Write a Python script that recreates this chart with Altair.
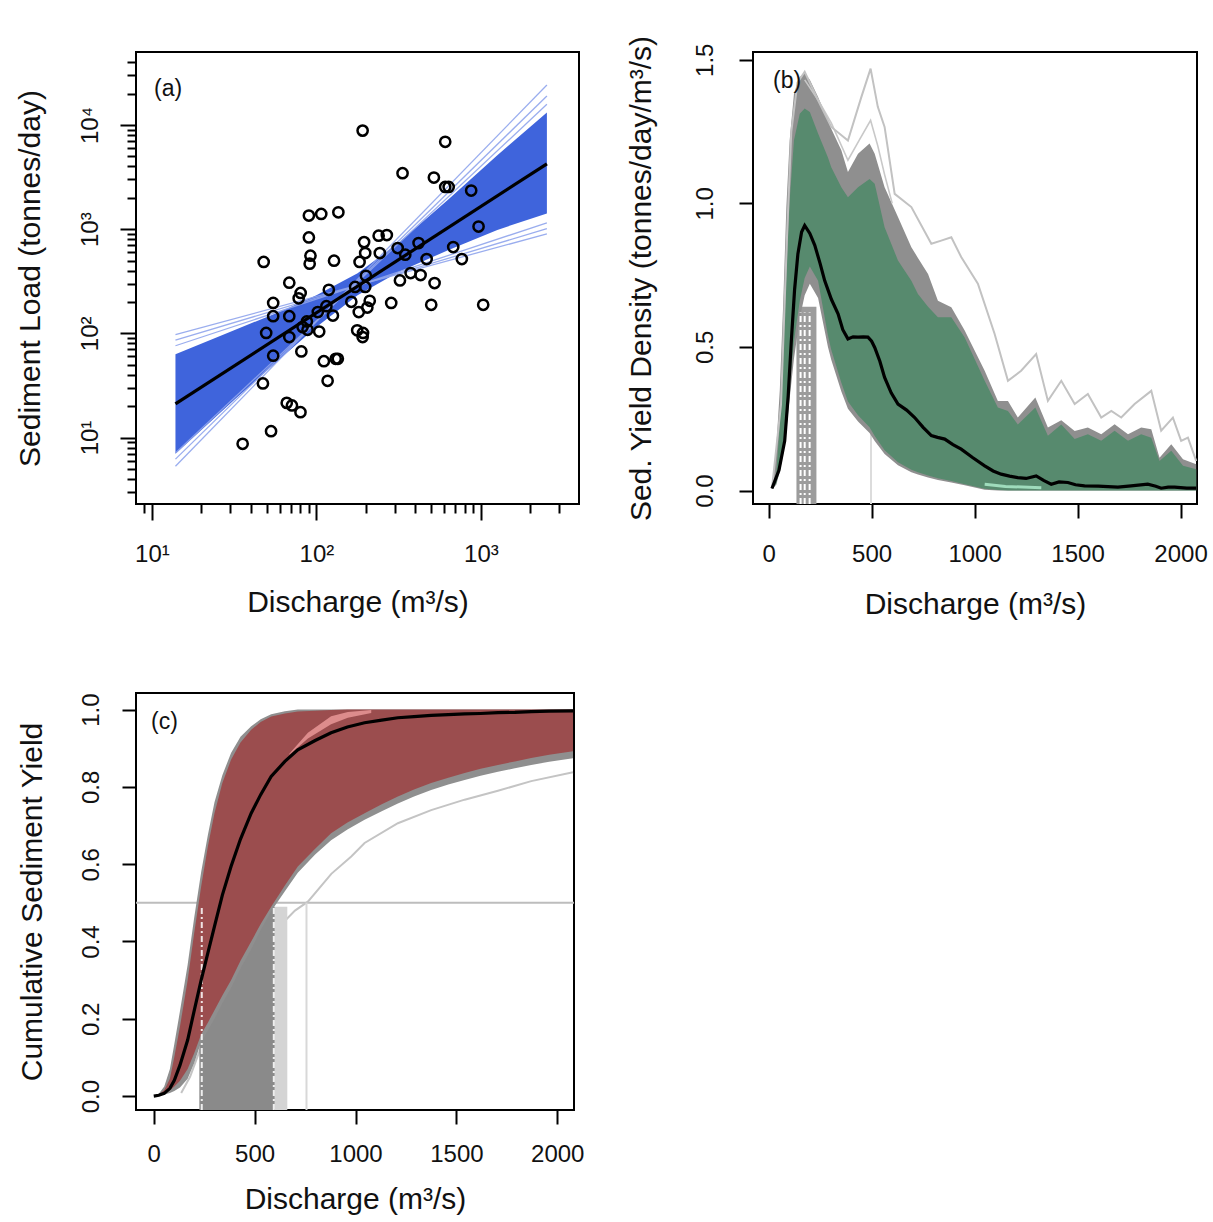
import altair as alt
import pandas as pd

FONT = "Liberation Sans"
INK = "#111111"

# ---------------- panel (a): sediment rating curve ----------------
A_DISCHARGE = [191, 607, 334, 518, 607, 637, 873, 90, 107, 136, 968, 90, 239, 268, 195, 418, 312, 679,
               92, 198, 243, 347, 47.8, 128, 183, 468, 766, 91, 374, 430, 200, 68.4, 322, 523, 172, 198,
               119, 80.2, 78, 54.6, 163, 211, 285, 499, 1033, 115, 204, 102, 181, 54.6, 68.4, 126, 87.5,
               82.4, 88.3, 49.5, 104, 177, 192, 191, 68.4, 81, 54.6, 111, 131, 135, 47.3, 117, 66, 71,
               80, 53, 35.6]
A_LOAD = [8830, 6890, 3450, 3130, 2540, 2540, 2350, 1350, 1400, 1450, 1060, 832, 865, 878, 751, 736, 659,
          674, 556, 590, 590, 569, 484, 498, 484, 517, 517, 466, 379, 363, 357, 306, 322, 304, 279, 279,
          262, 244, 217, 196, 201, 205, 196, 188, 188, 182, 177, 160, 160, 146, 146, 148, 130, 115, 108,
          101, 104, 107, 101, 92, 92, 67, 61, 54, 57, 57, 33, 35, 21.5, 20.3, 17.5, 11.5, 8.7]
A_FIT_Q = [13.9, 2520]
A_FIT_LOAD = [21.0, 4240]
A_BAND_Q = [13.9, 31.6, 63.1, 100, 178, 316, 631, 1259, 2520]
A_BAND_LO = [7.0, 22.9, 61, 115, 232, 387, 628, 984, 1413]
A_BAND_HI = [63, 107, 167, 232, 377, 741, 1914, 5117, 13200]
A_EDGE_START = [97, 86, 76, 5.3, 6.2, 7.1]        # load at Q = 13.9
A_EDGE_END = [900, 1010, 1150, 24200, 19000, 15800]  # load at Q = 2520
A_X_TICKS = [9, 10, 20, 30, 40, 50, 60, 70, 80, 90, 100, 200, 300, 400, 500, 600, 700, 800, 900,
             1000, 2000, 3000]
A_Y_TICKS = [3, 4, 5, 6, 7, 8, 9, 10, 20, 30, 40, 50, 60, 70, 80, 90, 100, 200, 300, 400, 500, 600,
             700, 800, 900, 1000, 2000, 3000, 4000, 5000, 6000, 7000, 8000, 9000, 10000, 20000, 30000,
             40000]
A_DOM_X = [8.0, 3950]
A_DOM_Y = [2.3, 50200]

# ---------------- panel (b): sediment yield density ----------------
B_X = [16, 37, 54, 70, 86, 102, 123, 151, 175, 200, 240, 288, 304, 353, 385, 434, 490, 515, 563, 628,
       693, 725, 774, 822, 887, 952, 1049, 1113, 1162, 1210, 1295, 1356, 1421, 1486, 1550, 1615, 1680,
       1745, 1809, 1858, 1898, 1955, 2012, 2076]
B_GRN_HI = [0.007, 0.06, 0.23, 0.46, 0.754, 1.01, 1.22, 1.312, 1.33, 1.318, 1.243, 1.16, 1.126, 1.056,
            1.021, 1.056, 1.085, 1.068, 0.917, 0.801, 0.73, 0.684, 0.64, 0.603, 0.603, 0.533, 0.382,
            0.289, 0.277, 0.23, 0.289, 0.191, 0.23, 0.179, 0.196, 0.173, 0.208, 0.173, 0.196, 0.184,
            0.103, 0.138, 0.086, 0.074]
B_GRY_HI = [0.007, 0.15, 0.348, 0.638, 0.987, 1.22, 1.382, 1.44, 1.452, 1.43, 1.37, 1.289, 1.26, 1.185,
            1.109, 1.173, 1.208, 1.173, 1.056, 0.952, 0.847, 0.81, 0.754, 0.661, 0.638, 0.557, 0.417,
            0.312, 0.312, 0.254, 0.324, 0.219, 0.245, 0.207, 0.219, 0.196, 0.231, 0.196, 0.219, 0.213,
            0.114, 0.161, 0.109, 0.091]
B_GRN_LO = [0.005, 0.025, 0.08, 0.15, 0.25, 0.37, 0.52, 0.66, 0.74, 0.78, 0.73, 0.54, 0.49, 0.375, 0.31,
            0.262, 0.22, 0.19, 0.14, 0.098, 0.072, 0.064, 0.052, 0.043, 0.033, 0.022, 0.006, 0.002, 0, 0,
            0, 0, 0, 0, 0, 0, 0, 0, 0, 0, 0, 0, 0, 0]
B_GRY_LO = [0.004, 0.02, 0.065, 0.125, 0.21, 0.32, 0.46, 0.6, 0.68, 0.72, 0.67, 0.5, 0.455, 0.345, 0.285,
            0.24, 0.2, 0.172, 0.127, 0.088, 0.064, 0.056, 0.045, 0.037, 0.028, 0.018, 0.003, 0, 0, 0,
            0, 0, 0, 0, 0, 0, 0, 0, 0, 0, 0, 0, 0, 0]
B_MED_X = [16, 50, 78, 95, 110, 126, 142, 160, 175, 200, 224, 250, 272, 305, 337, 360, 385, 410, 434,
           460, 482, 500, 515, 540, 563, 595, 628, 670, 709, 750, 790, 820, 855, 895, 935, 990, 1049,
           1090, 1129, 1170, 1210, 1250, 1299, 1335, 1372, 1410, 1453, 1490, 1534, 1600, 1696, 1760,
           1841, 1880, 1906, 1940, 1971, 2030, 2076]
B_MED_Y = [0.007, 0.07, 0.173, 0.33, 0.52, 0.70, 0.824, 0.90, 0.923, 0.895, 0.854, 0.79, 0.731, 0.665,
           0.615, 0.56, 0.528, 0.535, 0.534, 0.535, 0.534, 0.52, 0.498, 0.45, 0.394, 0.34, 0.301, 0.28,
           0.254, 0.22, 0.191, 0.185, 0.179, 0.16, 0.144, 0.115, 0.086, 0.068, 0.057, 0.05, 0.045,
           0.042, 0.051, 0.035, 0.022, 0.03, 0.028, 0.02, 0.016, 0.015, 0.012, 0.016, 0.022, 0.015,
           0.008, 0.012, 0.012, 0.008, 0.008]
B_OUT1_X = [16, 60, 90, 110, 140, 175, 240, 304, 385, 450, 495, 530, 563, 612, 693, 790, 838, 887, 935,
            1016, 1097, 1162, 1226, 1299, 1356, 1421, 1486, 1550, 1615, 1664, 1712, 1777, 1858, 1906,
            1963, 2003, 2036, 2076]
B_OUT1_Y = [0.007, 0.3, 0.9, 1.25, 1.42, 1.458, 1.359, 1.266, 1.219, 1.37, 1.469, 1.336, 1.266, 1.033,
            0.987, 0.859, 0.870, 0.882, 0.813, 0.720, 0.546, 0.382, 0.417, 0.475, 0.312, 0.382, 0.301,
            0.336, 0.254, 0.277, 0.254, 0.301, 0.347, 0.208, 0.254, 0.173, 0.184, 0.103]
B_OUT2_X = [175, 240, 304, 385, 440, 495, 530, 563, 600]
B_OUT2_Y = [1.43, 1.36, 1.28, 1.15, 1.22, 1.289, 1.2, 1.1, 1.0]
B_MINT_X = [1049, 1150, 1324]
B_MINT_Y = [0.022, 0.014, 0.01]
B_VBAND = [135, 232]
B_VBAND_TOP = 0.64
B_DASH_X = [155, 175, 199]
B_DASH_TOP = 0.62
B_FAINT_X = 497
B_FAINT_TOP = 0.23
B_DOM_X = [-76, 2080]
B_DOM_Y = [-0.047, 1.527]

# ---------------- panel (c): cumulative sediment yield ----------------
C_X = [0, 25, 52, 80, 102, 130, 168, 200, 235, 268, 301, 340, 383, 430, 483, 530, 582, 650, 714, 800,
       879, 960, 1045, 1130, 1210, 1290, 1375, 1460, 1541, 1620, 1706, 1790, 1871, 1960, 2078]
C_RED_HI = [0, 0.004, 0.015, 0.045, 0.101, 0.18, 0.3, 0.42, 0.542, 0.645, 0.732, 0.81, 0.87, 0.915,
            0.948, 0.968, 0.982, 0.99, 0.995, 0.997, 0.999, 1, 1, 1, 1, 1, 1, 1, 1, 1, 1, 1, 1, 1, 1]
C_GRY_HI = [0, 0.006, 0.025, 0.07, 0.135, 0.22, 0.34, 0.46, 0.58, 0.675, 0.76, 0.83, 0.888, 0.93, 0.957,
            0.975, 0.988, 0.996, 1, 1, 1, 1, 1, 1, 1, 1, 1, 1, 1, 1, 1, 1, 1, 1, 1]
C_MED = [0, 0.002, 0.007, 0.02, 0.041, 0.08, 0.145, 0.22, 0.3, 0.37, 0.439, 0.52, 0.594, 0.665, 0.732,
         0.78, 0.827, 0.866, 0.896, 0.92, 0.94, 0.955, 0.966, 0.973, 0.979, 0.982, 0.985, 0.987, 0.989,
         0.99, 0.992, 0.993, 0.995, 0.996, 0.997]
C_RED_LO = [0, 0.002, 0.008, 0.015, 0.025, 0.04, 0.07, 0.11, 0.16, 0.19, 0.222, 0.26, 0.30, 0.35, 0.40,
            0.445, 0.49, 0.545, 0.594, 0.64, 0.68, 0.708, 0.732, 0.755, 0.775, 0.793, 0.81, 0.824, 0.836,
            0.847, 0.857, 0.866, 0.875, 0.883, 0.892]
C_GRY_LO = [0, 0.001, 0.004, 0.008, 0.013, 0.022, 0.045, 0.085, 0.14, 0.17, 0.2, 0.24, 0.28, 0.33, 0.38,
            0.43, 0.478, 0.53, 0.578, 0.625, 0.662, 0.69, 0.715, 0.737, 0.757, 0.775, 0.792, 0.806,
            0.818, 0.829, 0.839, 0.848, 0.857, 0.865, 0.874]
C_OUT_X = [136, 180, 235, 300, 400, 500, 598, 700, 764, 880, 979, 1045, 1210, 1375, 1541, 1706, 1871, 2078]
C_OUT_Y = [0.008, 0.05, 0.128, 0.2, 0.3, 0.37, 0.426, 0.48, 0.503, 0.575, 0.62, 0.655, 0.706, 0.74,
           0.767, 0.79, 0.815, 0.838]
C_PINK_X = [672, 764, 879, 962, 1078]
C_PINK_LO = [0.883, 0.925, 0.962, 0.979, 0.991]
C_PINK_HI = [0.886, 0.94, 0.983, 0.994, 0.999]
C_SHADE_X = [226, 400, 582, 600]
C_SHADE_TOP = [0.154, 0.318, 0.49, 0.49]
C_STRIP = [600, 662]
C_DASH_X = [238, 595]
C_DASH_TOP = 0.49
C_FAINT_X = 757
C_HALF = 0.5
C_DOM_X = [-88, 2083]
C_DOM_Y = [-0.036, 1.043]

DASHDOT = [6, 3, 2, 3]

# ======================= panel (a) =======================
AW, AH = 443, 452
MAJOR_TEST = "datum.value == 10 || datum.value == 100 || datum.value == 1000 || datum.value == 10000"
SUP_EXPR = ("datum.value == 10 ? '10\u00b9' : datum.value == 100 ? '10\u00b2' : "
            "datum.value == 1000 ? '10\u00b3' : datum.value == 10000 ? '10\u2074' : ''")
a_xscale = alt.Scale(type="log", domain=A_DOM_X, nice=False, zero=False)
a_yscale = alt.Scale(type="log", domain=A_DOM_Y, nice=False, zero=False)
a_xaxis = alt.Axis(values=A_X_TICKS, labelExpr=SUP_EXPR, title="Discharge (m\u00b3/s)",
                   tickSize={"condition": {"test": MAJOR_TEST, "value": 16}, "value": 9},
                   labelPadding=34, labelBaseline="middle",
                   titleX=AW / 2, titleY=98, titleAlign="center", titleBaseline="middle")
a_yaxis = alt.Axis(values=A_Y_TICKS, labelExpr=SUP_EXPR, title="Sediment Load (tonnes/day)",
                   tickSize={"condition": {"test": MAJOR_TEST, "value": 16}, "value": 9},
                   labelPadding=30, labelAngle=270, labelAlign="center", labelBaseline="middle",
                   titleX=-106, titleY=AH / 2, titleAngle=270, titleAlign="center",
                   titleBaseline="middle")


def ax_(f):
    return alt.X(f, type="quantitative", scale=a_xscale, axis=a_xaxis)


def ay_(f):
    return alt.Y(f, type="quantitative", scale=a_yscale, axis=a_yaxis)


a_band_df = pd.DataFrame({"q": A_BAND_Q, "lo": A_BAND_LO, "hi": A_BAND_HI})
edge_rows = []
for i, (s, e) in enumerate(zip(A_EDGE_START, A_EDGE_END)):
    edge_rows.append({"q": A_FIT_Q[0], "load": s, "id": i})
    edge_rows.append({"q": A_FIT_Q[1], "load": e, "id": i})
a_edge_df = pd.DataFrame(edge_rows)
a_fit_df = pd.DataFrame({"q": A_FIT_Q, "load": A_FIT_LOAD})
a_pts_df = pd.DataFrame({"q": A_DISCHARGE, "load": A_LOAD})

a_band = alt.Chart(a_band_df).mark_area(color="#3f64dc", opacity=1, clip=True).encode(
    x=ax_("q"), y=ay_("lo"), y2=alt.Y2("hi"))
a_edges = alt.Chart(a_edge_df).mark_line(color="#8fa4ec", strokeWidth=1.3, opacity=0.9, clip=True).encode(
    x=ax_("q"), y=ay_("load"), detail="id:N")
a_fit = alt.Chart(a_fit_df).mark_line(color="black", strokeWidth=3.2, clip=True).encode(
    x=ax_("q"), y=ay_("load"))
a_pts = alt.Chart(a_pts_df).mark_point(shape="circle", filled=False, color="black", size=105,
                                       strokeWidth=2.5, opacity=1, clip=True).encode(
    x=ax_("q"), y=ay_("load"))
a_tag = alt.Chart(pd.DataFrame({"t": ["(a)"]})).mark_text(
    align="left", baseline="middle", fontSize=23, font=FONT, color=INK).encode(
    text="t:N", x=alt.value(18), y=alt.value(37))
panel_a = alt.layer(a_band, a_edges, a_fit, a_pts, a_tag).properties(width=AW, height=AH)

# ======================= panel (b) =======================
BW, BH = 444, 452
b_xscale = alt.Scale(domain=B_DOM_X, nice=False, zero=False)
b_yscale = alt.Scale(domain=B_DOM_Y, nice=False, zero=False)
b_xaxis = alt.Axis(values=[0, 500, 1000, 1500, 2000], format="d", title="Discharge (m\u00b3/s)",
                   tickSize=14, labelPadding=36, labelBaseline="middle",
                   titleX=BW / 2, titleY=100, titleAlign="center", titleBaseline="middle")
b_yaxis = alt.Axis(values=[0, 0.5, 1.0, 1.5], format=".1f",
                   title="Sed. Yield Density (tonnes/day/m\u00b3/s)",
                   tickSize=14, labelPadding=34, labelAngle=270, labelAlign="center",
                   labelBaseline="middle", titleX=-112, titleY=BH / 2, titleAngle=270,
                   titleAlign="center", titleBaseline="middle")


def bx_(f):
    return alt.X(f, type="quantitative", scale=b_xscale, axis=b_xaxis)


def by_(f):
    return alt.Y(f, type="quantitative", scale=b_yscale, axis=b_yaxis)


b_band_df = pd.DataFrame({"x": B_X, "glo": B_GRY_LO, "ghi": B_GRY_HI, "nlo": B_GRN_LO, "nhi": B_GRN_HI})
b_vband = alt.Chart(pd.DataFrame({"x1": [B_VBAND[0]], "x2": [B_VBAND[1]], "y1": [B_DOM_Y[0]],
                                  "y2": [B_VBAND_TOP]})).mark_rect(color="#9c9c9c", clip=True).encode(
    x=bx_("x1"), x2=alt.X2("x2"), y=by_("y1"), y2=alt.Y2("y2"))
b_dash = alt.Chart(pd.DataFrame({"x": B_DASH_X, "y1": [B_DOM_Y[0]] * len(B_DASH_X),
                                 "y2": [B_DASH_TOP] * len(B_DASH_X)})).mark_rule(
    color="white", strokeWidth=2, strokeDash=DASHDOT, clip=True).encode(
    x=bx_("x"), y=by_("y1"), y2=alt.Y2("y2"))
b_faint = alt.Chart(pd.DataFrame({"x": [B_FAINT_X], "y1": [B_DOM_Y[0]], "y2": [B_FAINT_TOP]})).mark_rule(
    color="#dcdcdc", strokeWidth=2, clip=True).encode(x=bx_("x"), y=by_("y1"), y2=alt.Y2("y2"))
b_gray = alt.Chart(b_band_df).mark_area(color="#8f8f8f", clip=True).encode(
    x=bx_("x"), y=by_("glo"), y2=alt.Y2("ghi"))
b_green = alt.Chart(b_band_df).mark_area(color="#578a6e", clip=True).encode(
    x=bx_("x"), y=by_("nlo"), y2=alt.Y2("nhi"))
b_mint = alt.Chart(pd.DataFrame({"x": B_MINT_X, "y": B_MINT_Y})).mark_line(
    color="#9fdcbc", strokeWidth=3, clip=True).encode(x=bx_("x"), y=by_("y"))
b_out1 = alt.Chart(pd.DataFrame({"x": B_OUT1_X, "y": B_OUT1_Y})).mark_line(
    color="#c2c2c2", strokeWidth=2, clip=True).encode(x=bx_("x"), y=by_("y"))
b_out2 = alt.Chart(pd.DataFrame({"x": B_OUT2_X, "y": B_OUT2_Y})).mark_line(
    color="#c8c8c8", strokeWidth=1.6, clip=True).encode(x=bx_("x"), y=by_("y"))
b_med = alt.Chart(pd.DataFrame({"x": B_MED_X, "y": B_MED_Y})).mark_line(
    color="black", strokeWidth=3.2, clip=True).encode(x=bx_("x"), y=by_("y"))
b_tag = alt.Chart(pd.DataFrame({"t": ["(b)"]})).mark_text(
    align="left", baseline="middle", fontSize=23, font=FONT, color=INK).encode(
    text="t:N", x=alt.value(20), y=alt.value(29))
panel_b = alt.layer(b_vband, b_faint, b_gray, b_green, b_mint, b_out2, b_out1, b_dash, b_med,
                    b_tag).properties(width=BW, height=BH)

# ======================= panel (c) =======================
CW, CH = 438, 417
c_xscale = alt.Scale(domain=C_DOM_X, nice=False, zero=False)
c_yscale = alt.Scale(domain=C_DOM_Y, nice=False, zero=False)
c_xaxis = alt.Axis(values=[0, 500, 1000, 1500, 2000], format="d", title="Discharge (m\u00b3/s)",
                   tickSize=14, labelPadding=30, labelBaseline="middle",
                   titleX=CW / 2, titleY=89, titleAlign="center", titleBaseline="middle")
c_yaxis = alt.Axis(values=[0, 0.2, 0.4, 0.6, 0.8, 1.0], format=".1f",
                   title="Cumulative Sediment Yield",
                   tickSize=14, labelPadding=31, labelAngle=270, labelAlign="center",
                   labelBaseline="middle", titleX=-104, titleY=CH / 2, titleAngle=270,
                   titleAlign="center", titleBaseline="middle")


def cx_(f):
    return alt.X(f, type="quantitative", scale=c_xscale, axis=c_xaxis)


def cy_(f):
    return alt.Y(f, type="quantitative", scale=c_yscale, axis=c_yaxis)


c_band_df = pd.DataFrame({"x": C_X, "glo": C_GRY_LO, "ghi": C_GRY_HI, "rlo": C_RED_LO, "rhi": C_RED_HI,
                          "med": C_MED})
c_half = alt.Chart(pd.DataFrame({"y": [C_HALF]})).mark_rule(color="#bdbdbd", strokeWidth=2).encode(
    y=cy_("y"))
c_out = alt.Chart(pd.DataFrame({"x": C_OUT_X, "y": C_OUT_Y})).mark_line(
    color="#c4c4c4", strokeWidth=2, clip=True).encode(x=cx_("x"), y=cy_("y"))
c_shade = alt.Chart(pd.DataFrame({"x": C_SHADE_X, "y1": [C_DOM_Y[0]] * len(C_SHADE_X),
                                  "y2": C_SHADE_TOP})).mark_area(color="#8a8a8a", clip=True).encode(
    x=cx_("x"), y=cy_("y1"), y2=alt.Y2("y2"))
c_strip = alt.Chart(pd.DataFrame({"x1": [C_STRIP[0]], "x2": [C_STRIP[1]], "y1": [C_DOM_Y[0]],
                                  "y2": [C_DASH_TOP]})).mark_rect(color="#d4d4d4", clip=True).encode(
    x=cx_("x1"), x2=alt.X2("x2"), y=cy_("y1"), y2=alt.Y2("y2"))
c_faint = alt.Chart(pd.DataFrame({"x": [C_FAINT_X], "y1": [C_DOM_Y[0]], "y2": [C_HALF]})).mark_rule(
    color="#d8d8d8", strokeWidth=2, clip=True).encode(x=cx_("x"), y=cy_("y1"), y2=alt.Y2("y2"))
c_gray = alt.Chart(c_band_df).mark_area(color="#8f8f8f", clip=True).encode(
    x=cx_("x"), y=cy_("glo"), y2=alt.Y2("ghi"))
c_red = alt.Chart(c_band_df).mark_area(color="#9b4d4e", clip=True).encode(
    x=cx_("x"), y=cy_("rlo"), y2=alt.Y2("rhi"))
c_pink = alt.Chart(pd.DataFrame({"x": C_PINK_X, "lo": C_PINK_LO, "hi": C_PINK_HI})).mark_area(
    color="#dd8c8c", clip=True).encode(x=cx_("x"), y=cy_("lo"), y2=alt.Y2("hi"))
c_dash = alt.Chart(pd.DataFrame({"x": C_DASH_X, "y1": [C_DOM_Y[0]] * len(C_DASH_X),
                                 "y2": [C_DASH_TOP] * len(C_DASH_X)})).mark_rule(
    color="white", strokeWidth=2, strokeDash=DASHDOT, opacity=0.85, clip=True).encode(
    x=cx_("x"), y=cy_("y1"), y2=alt.Y2("y2"))
c_med = alt.Chart(c_band_df).mark_line(color="black", strokeWidth=3.2, clip=True).encode(
    x=cx_("x"), y=cy_("med"))
c_tag = alt.Chart(pd.DataFrame({"t": ["(c)"]})).mark_text(
    align="left", baseline="middle", fontSize=23, font=FONT, color=INK).encode(
    text="t:N", x=alt.value(15), y=alt.value(29))
panel_c = alt.layer(c_half, c_out, c_shade, c_strip, c_faint, c_gray, c_red, c_pink, c_dash, c_med,
                    c_tag).properties(width=CW, height=CH)

chart = alt.concat(panel_a, panel_b, panel_c, columns=2,
                   spacing={"row": 189, "column": 174}, bounds="flush").resolve_scale(
    x="independent", y="independent").properties(
    padding={"left": 13, "top": 34, "right": 0, "bottom": 0}, background="white"
).configure(font=FONT).configure_view(stroke="black", strokeWidth=2).configure_axis(
    domain=False, grid=False, tickColor="black", tickWidth=2, labelFont=FONT, titleFont=FONT,
    labelColor=INK, titleColor=INK, labelFontSize=24, titleFontSize=30, titleFontWeight="normal",
    labelOverlap=False, labelFlush=False)

chart.save("out.html", embed_options={"renderer": "svg", "actions": False})
